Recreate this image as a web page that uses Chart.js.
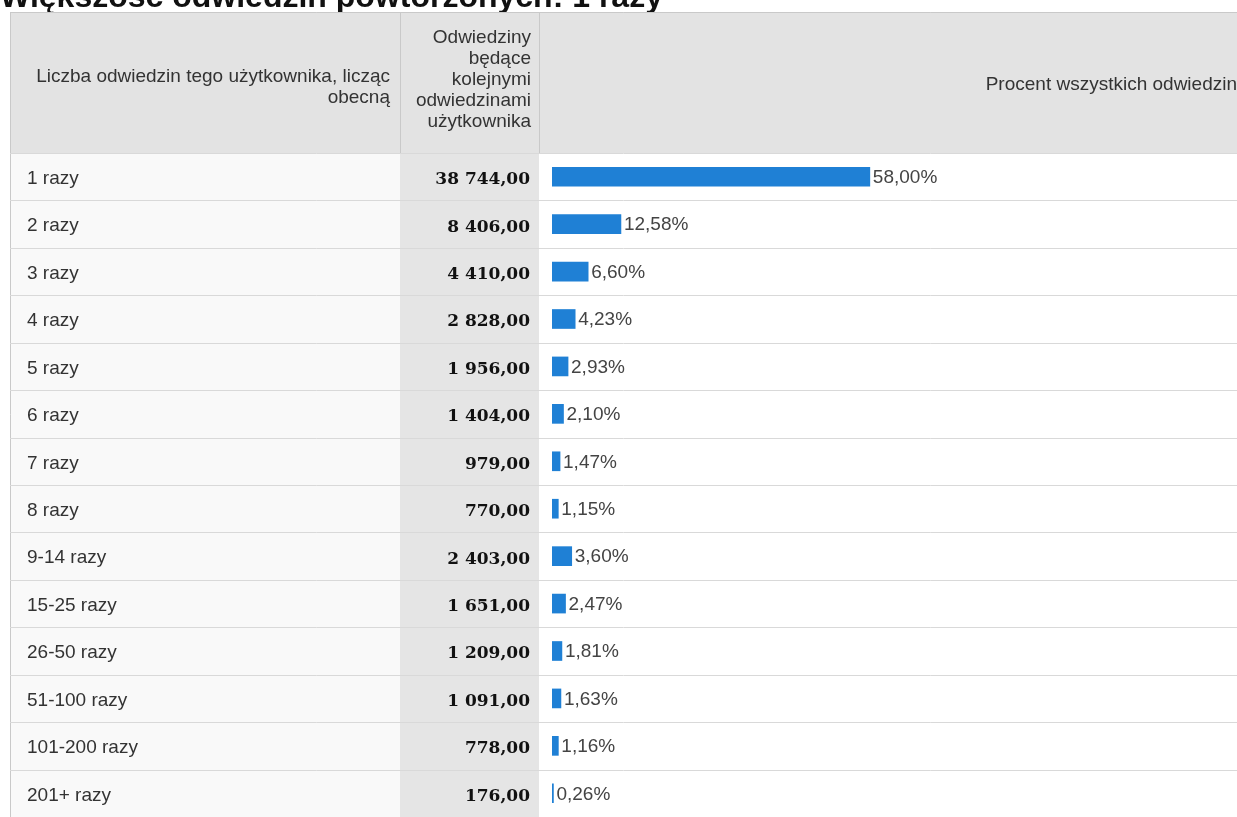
<!DOCTYPE html>
<html>
<head>
<meta charset="utf-8">
<script src="https://cdn.jsdelivr.net/npm/chart.js@4"></script>
<style>
  html, body { margin: 0; padding: 0; background: #fff; overflow: hidden; }
  .chart-container { position: relative; width: 1237px; height: 817px; }
</style>
</head>
<body>
<div class="chart-container">
  <canvas id="chart"></canvas>
</div>
<script>
const title = 'Większość odwiedzin powtórzonych: 1 razy';
const headerLeft = ['Liczba odwiedzin tego użytkownika, licząc', 'obecną'];
const headerMid = ['Odwiedziny', 'będące', 'kolejnymi', 'odwiedzinami', 'użytkownika'];
const headerRight = 'Procent wszystkich odwiedzin';

const categories = ['1 razy', '2 razy', '3 razy', '4 razy', '5 razy', '6 razy', '7 razy', '8 razy',
  '9-14 razy', '15-25 razy', '26-50 razy', '51-100 razy', '101-200 razy', '201+ razy'];
const visits = [38744, 8406, 4410, 2828, 1956, 1404, 979, 770, 2403, 1651, 1209, 1091, 778, 176];
const percents = [58.00, 12.58, 6.60, 4.23, 2.93, 2.10, 1.47, 1.15, 3.60, 2.47, 1.81, 1.63, 1.16, 0.26];

const fmtNum = v => {
  const [i, d] = v.toFixed(2).split('.');
  return i.replace(/\B(?=(\d{3})+(?!\d))/g, ' ') + ',' + d;
};
const fmtPct = v => v.toFixed(2).replace('.', ',') + '%';

// table layout (header + two text columns) drawn around the bar chart
const tableLeft = 10;
const tableTop = 12;
const headerBottom = 153;
const col1Right = 400;
const col2Right = 539;
const textFont = '19px "Liberation Sans", Arial, sans-serif';

const tablePlugin = {
  id: 'tablePlugin',
  beforeDraw(chart) {
    const ctx = chart.ctx;
    const area = chart.chartArea;
    const yScale = chart.scales.y;
    const W = chart.width;
    const rowH = (area.bottom - area.top) / categories.length;
    ctx.save();

    // title
    ctx.fillStyle = '#111';
    ctx.font = 'bold 32px "Liberation Sans", Arial, sans-serif';
    ctx.textAlign = 'left';
    ctx.textBaseline = 'alphabetic';
    ctx.fillText(title, 0, 7);

    // header
    ctx.fillStyle = '#e3e3e3';
    ctx.fillRect(tableLeft, tableTop, W - tableLeft, headerBottom - tableTop);
    // body columns
    ctx.fillStyle = '#f9f9f9';
    ctx.fillRect(tableLeft, headerBottom, col1Right - tableLeft, area.bottom - headerBottom);
    ctx.fillStyle = '#e5e5e5';
    ctx.fillRect(col1Right, headerBottom, col2Right - col1Right, area.bottom - headerBottom);

    // lines
    ctx.strokeStyle = '#c9c9c9';
    ctx.lineWidth = 1;
    ctx.beginPath();
    ctx.moveTo(tableLeft + 0.5, tableTop);
    ctx.lineTo(tableLeft + 0.5, area.bottom);
    ctx.moveTo(tableLeft, tableTop + 0.5);
    ctx.lineTo(W, tableTop + 0.5);
    ctx.moveTo(col1Right + 0.5, tableTop);
    ctx.lineTo(col1Right + 0.5, headerBottom);
    ctx.moveTo(col2Right + 0.5, tableTop);
    ctx.lineTo(col2Right + 0.5, headerBottom);
    ctx.stroke();

    ctx.strokeStyle = '#d9d9d9';
    ctx.beginPath();
    for (let i = 0; i <= categories.length; i++) {
      const y = Math.round(area.top + i * rowH) + 0.5;
      ctx.moveTo(tableLeft, y);
      ctx.lineTo(W, y);
    }
    ctx.stroke();

    // header text
    ctx.fillStyle = '#333';
    ctx.font = textFont;
    ctx.textAlign = 'right';
    ctx.textBaseline = 'middle';
    headerLeft.forEach((t, i) => ctx.fillText(t, 390, 77 + i * 21));
    headerMid.forEach((t, i) => ctx.fillText(t, 531, 38 + i * 21));
    ctx.fillText(headerRight, W, 85);

    // rows
    categories.forEach((c, i) => {
      const y = yScale.getPixelForValue(i);
      ctx.textAlign = 'left';
      ctx.font = textFont;
      ctx.fillStyle = '#333';
      ctx.fillText(c, 27, y + 2);
      ctx.textAlign = 'right';
      ctx.font = 'bold 17px "DejaVu Serif", Georgia, serif';
      ctx.fillStyle = '#111';
      ctx.fillText(fmtNum(visits[i]), 530, y + 3);
    });
    ctx.restore();
  },
  afterDatasetsDraw(chart) {
    const ctx = chart.ctx;
    const meta = chart.getDatasetMeta(0);
    ctx.save();
    ctx.fillStyle = '#444';
    ctx.font = textFont;
    ctx.textAlign = 'left';
    ctx.textBaseline = 'middle';
    meta.data.forEach((bar, i) => {
      ctx.fillText(fmtPct(percents[i]), bar.x + 3, bar.y + 1);
    });
    ctx.restore();
  }
};

new Chart(document.getElementById('chart'), {
  type: 'bar',
  data: {
    labels: categories,
    datasets: [{
      data: percents,
      backgroundColor: '#1f80d5',
      borderWidth: 0,
      barThickness: 19,
      minBarLength: 1
    }]
  },
  options: {
    indexAxis: 'y',
    responsive: true,
    maintainAspectRatio: false,
    animation: false,
    layout: { padding: { left: 552, top: 153, right: 0, bottom: 0 } },
    scales: {
      x: { display: false, min: 0, max: 125 },
      y: { display: false }
    },
    plugins: {
      legend: { display: false },
      tooltip: { enabled: false }
    }
  },
  plugins: [tablePlugin]
});
</script>
</body>
</html>
